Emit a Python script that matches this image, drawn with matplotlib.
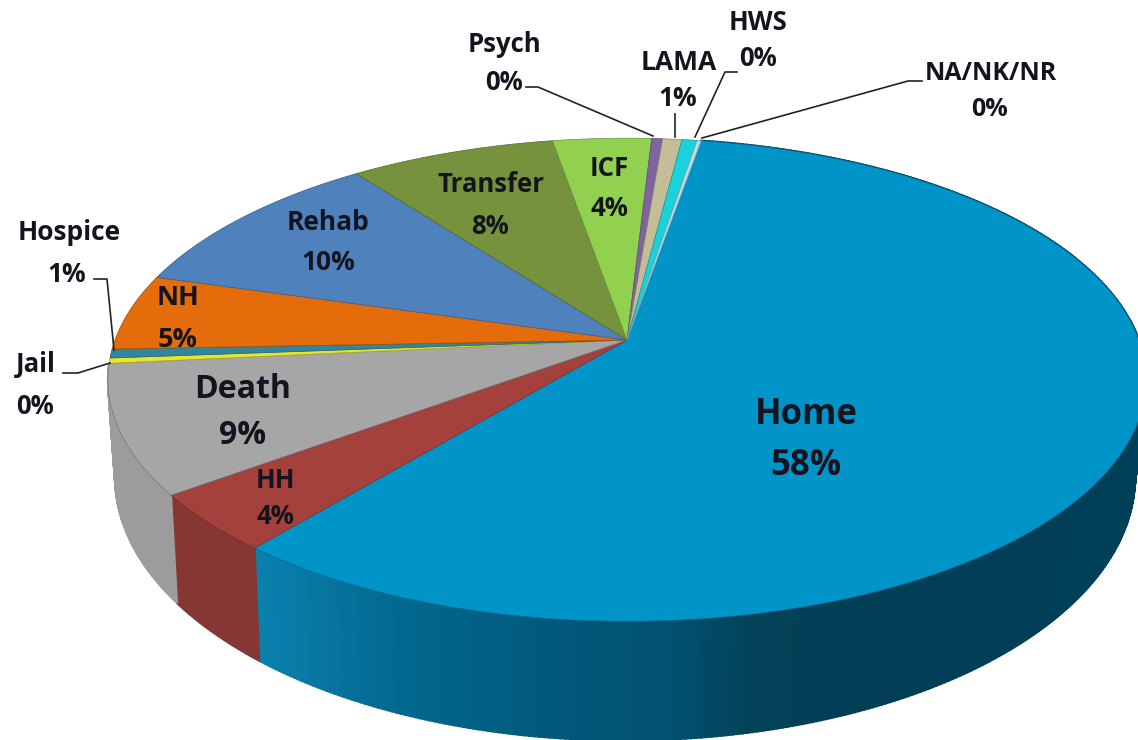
import matplotlib
matplotlib.use('Agg')
import matplotlib.pyplot as plt
from matplotlib.colors import LinearSegmentedColormap, to_rgb
import numpy as np

# slices, clockwise from the top of the pie
labels = ['Home', 'HH', 'Death', 'Jail', 'Hospice', 'NH', 'Rehab', 'Transfer',
          'ICF', 'Psych', 'LAMA', 'HWS', 'NA/NK/NR']
values = [58.25, 3.9, 8.6, 0.35, 0.6, 5.1, 10.3, 7.5, 3.6, 0.4, 0.7, 0.55, 0.15]
pct_labels = ['58%', '4%', '9%', '0%', '1%', '5%', '10%', '8%', '4%', '0%', '1%', '0%', '0%']

colors = ['#0094c8', '#a5413d', '#a6a6a6', '#e6e62e', '#31859c', '#e46c0a', '#4f81bd',
          '#76923c', '#92d050', '#8064a2', '#c4bd97', '#18d3dc', '#b7dee8']
wall_colors = ['#0a80ad', '#863733', '#9c9c9c']

# label centres in pixels: name x, name y, pct x, pct y, font size
label_pos = {
    'Home': (806, 415, 806, 466, 25), 'HH': (275, 480, 275, 516, 18.5),
    'Death': (243, 390, 243, 436, 23), 'Jail': (36, 365, 35, 406, 18.5),
    'Hospice': (69, 233, 67, 274, 19), 'NH': (178, 298, 178, 340, 19.5),
    'Rehab': (328, 223, 328, 263, 19), 'Transfer': (491, 184, 490, 226, 18.5),
    'ICF': (609, 169, 609, 209, 18.5), 'Psych': (504, 45, 504, 82, 18.5),
    'LAMA': (679, 63, 678, 99, 19), 'HWS': (758, 23, 758, 59, 18.5),
    'NA/NK/NR': (991, 74, 990, 110, 18),
}
leaders = [
    ([526, 538, 653], [87, 87, 136]),
    ([675, 675], [114, 137]),
    ([737, 725, 695], [72, 72, 137]),
    ([922, 908, 702], [81, 81, 138]),
    ([94, 107, 114], [279, 279, 350]),
    ([63, 78, 110], [373, 373, 363]),
]

# perspective of the pie: top face and bottom rim
K = 0.1646
START = 9.7
TOP = (627, 340, 512, 235)
BOTTOM = (625, 434, 503, 256)


def project(theta, plane, r=1.0):
    # theta in degrees clockwise from the far point of the disc
    cx, cy, rx, ry = plane
    t = np.radians(theta)
    u, v = r * np.sin(t), r * np.cos(t)
    f = 1 / (1 + K * v)
    return cx + rx * u * f, cy - ry * v * f


fig = plt.figure(figsize=(11.38, 7.4), dpi=100)
ax = fig.add_axes([0, 0, 1, 1])
ax.set_xlim(0, 1138)
ax.set_ylim(740, 0)
ax.axis('off')

bounds = START + np.concatenate([[0], np.cumsum(values)]) * 3.6

# side wall, only the front half shows
home_wall = LinearSegmentedColormap.from_list(
    'home', [(0, '#0a80ad'), (0.16, '#03688f'), (0.32, '#015a7d'), (0.48, '#02506f'),
             (0.57, '#034258'), (0.7, '#023e56'), (1, '#003f58')])
for i in range(3):
    th = np.arange(bounds[i], bounds[i + 1], 0.5)
    th = np.append(th, bounds[i + 1])
    for a, b in zip(th[:-1], th[1:]):
        seg = np.array([a, b])
        x1, y1 = project(seg, TOP)
        x2, y2 = project(seg, BOTTOM)
        if i == 0:
            c = home_wall(np.clip((x1.mean() - 260) / 870, 0, 1))
        else:
            c = wall_colors[i]
        ax.fill(np.r_[x1, x2[::-1]], np.r_[y1, y2[::-1]], color=c, lw=1.5, zorder=1)

# top face
for i in range(len(values)):
    th = np.linspace(bounds[i], bounds[i + 1], 200)
    x, y = project(th, TOP)
    edge = tuple(0.72 * c for c in to_rgb(colors[i]))
    ax.fill(np.r_[TOP[0], x], np.r_[TOP[1], y], facecolor=colors[i],
            edgecolor=edge, lw=0.5, zorder=2)

for xs, ys in leaders:
    ax.plot(xs, ys, color='#222222', lw=1.2, zorder=3, solid_joinstyle='round')

plt.rcParams['font.family'] = ['Open Sans', 'DejaVu Sans']
for name, pct in zip(labels, pct_labels):
    nx, ny, px, py, size = label_pos[name]
    ax.text(nx, ny, name, fontsize=size, fontweight='bold', color='#14141e',
            ha='center', va='center', zorder=4)
    ax.text(px, py, pct, fontsize=size, fontweight='bold', color='#14141e',
            ha='center', va='center', zorder=4)

fig.savefig('out.png', dpi=100)
